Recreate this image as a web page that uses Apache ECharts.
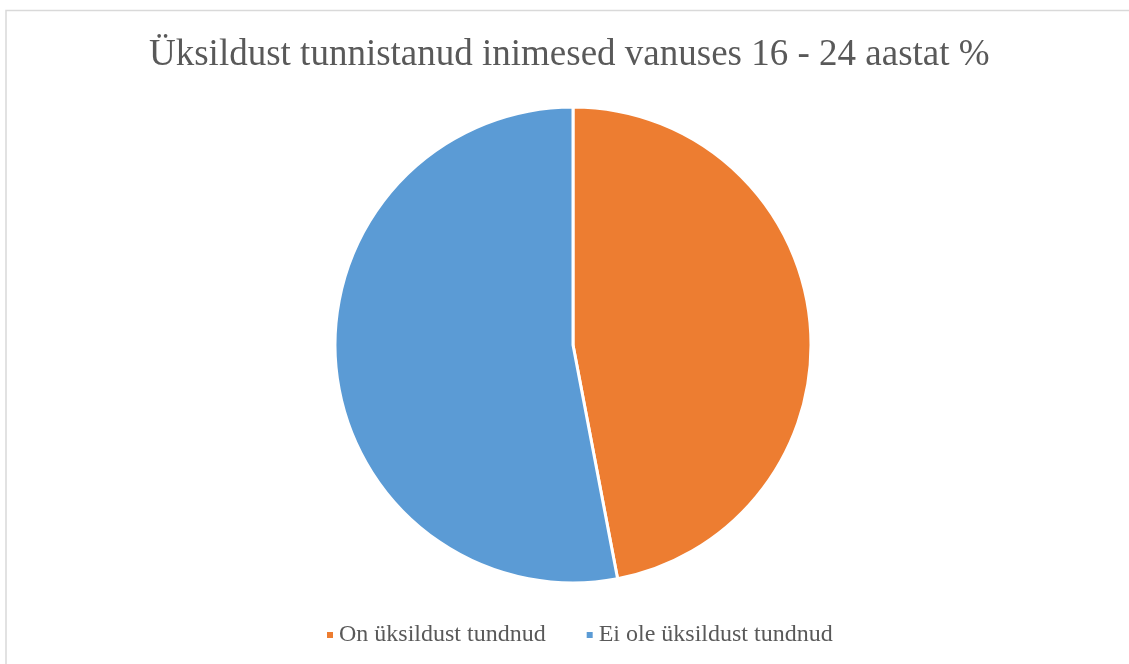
<!DOCTYPE html>
<html>
<head>
<meta charset="utf-8">
<style>
html,body{margin:0;padding:0;background:#fff;}
#chart{width:1129px;height:664px;}
</style>
<script src="https://cdn.jsdelivr.net/npm/echarts@6/dist/echarts.min.js"></script>
</head>
<body>
<div id="chart"></div>
<script>
const titleText = 'Üksildust tunnistanud inimesed vanuses 16 - 24 aastat %';
const categories = ['On üksildust tundnud', 'Ei ole üksildust tundnud'];
const values = [47, 53];
const colors = ['#ED7D31', '#5B9BD5'];

const chart = echarts.init(document.getElementById('chart'), null, {renderer: 'canvas'});
chart.setOption({
  animation: false,
  backgroundColor: '#ffffff',
  graphic: [{
    type: 'rect',
    shape: {x: 6, y: 10.5, width: 1200, height: 700},
    style: {fill: 'none', stroke: '#d9d9d9', lineWidth: 1.5},
    z: -1
  }],
  title: {
    text: titleText,
    left: 149,
    top: 37,
    padding: 0,
    textStyle: {
      fontFamily: '"Liberation Serif", "Times New Roman", serif',
      fontSize: 37,
      fontWeight: 'normal',
      color: '#595959'
    }
  },
  legend: {
    data: categories,
    bottom: 12,
    left: 320,
    icon: 'rect',
    itemWidth: 8,
    itemHeight: 8,
    itemGap: 39,
    textStyle: {
      fontFamily: '"Liberation Serif", "Times New Roman", serif',
      fontSize: 24,
      color: '#595959'
    }
  },
  series: [{
    type: 'pie',
    center: [573, 345],
    radius: 238,
    startAngle: 90,
    clockwise: true,
    label: {show: false},
    labelLine: {show: false},
    itemStyle: {borderColor: '#ffffff', borderWidth: 3},
    emphasis: {disabled: true},
    data: categories.map((c, i) => ({name: c, value: values[i], itemStyle: {color: colors[i]}}))
  }]
});
</script>
</body>
</html>
